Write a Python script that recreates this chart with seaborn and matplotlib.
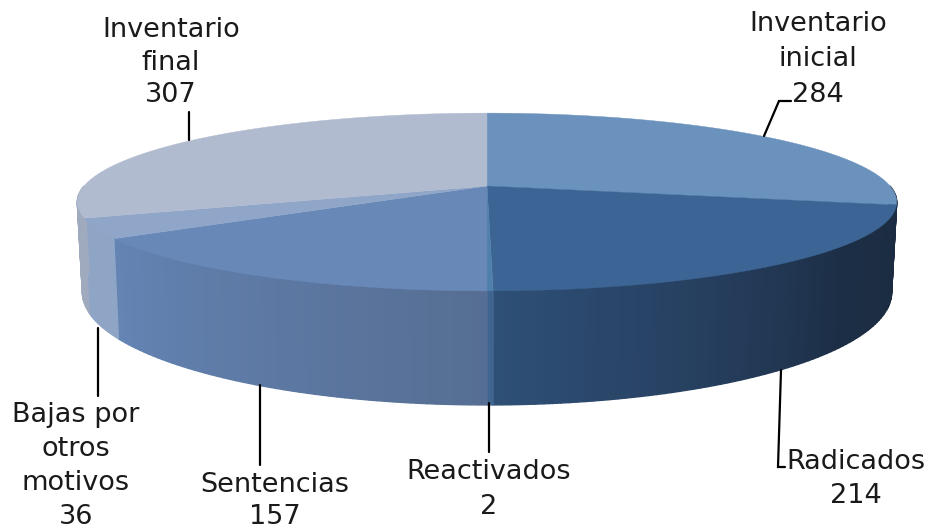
import numpy as np
import matplotlib
matplotlib.use('Agg')
import matplotlib.pyplot as plt
import seaborn as sns

labels = ['Inventario\ninicial', 'Radicados', 'Reactivados', 'Sentencias', 'Bajas por\notros\nmotivos', 'Inventario\nfinal']
values = [284, 214, 2, 157, 36, 307]

top_colors = ['#6b92bd', '#3c6595', '#4f7fad', '#6888b8', '#8fa6c8', '#b1bbd0']
wall_colors = [['#1b2c42', '#1b2c42'], ['#1b2c42', '#1c2e45', '#263f5f', '#2e4f76'], ['#3f6590', '#3f6590'],
               ['#566e93', '#6484b4'], ['#8fa5c6', '#8fa5c6'], ['#a0aabf', '#a0aabf']]

# label centre x, y, line spacing and leader line for each slice (pixels)
label_pos = [(818, 59.5), (856, 479), (489, 489.5), (275, 501), (76, 466), (171, 62.5)]
label_spacing = [1.49, 1.38, 1.47, 1.29, 1.39, 1.32]
leaders = [([791, 779, 764], [101, 101, 136]),
           ([781, 778, 785], [370, 467, 467]),
           ([489, 489], [403, 452]),
           ([259.5, 259.5], [385, 465]),
           ([98, 98], [328, 396]),
           ([189, 189], [112, 140])]

sns.set_theme(style='white')
plt.rcParams['font.family'] = ['DejaVu Sans']


def project(t, cy, a, b, k=0.18, cx=487):
    # angle clockwise from 12 o'clock to a point on the tilted disc
    v = -np.cos(t)
    u = np.sin(t)
    d = 1 - k * v
    return cx + a * u / d, cy + b * v / d


def top_rim(t):
    return project(t, 186, 403, 86)


def bottom_rim(t):
    return project(t, 272, 398, 109)


edges = np.radians(np.cumsum([0] + values) / sum(values) * 360)

fig = plt.figure(figsize=(9.36, 5.3), dpi=100)
ax = fig.add_axes([0, 0, 1, 1])
ax.set_xlim(0, 936)
ax.set_ylim(530, 0)
ax.axis('off')

# side wall, strips from right to left so each slice gets its own gradient
for i in range(len(values)):
    t0 = max(edges[i], np.pi / 2)
    t1 = min(edges[i + 1], 3 * np.pi / 2)
    if t1 <= t0:
        continue
    n = max(int(np.degrees(t1 - t0)), 1)
    shades = sns.blend_palette(wall_colors[i], n)
    ts = np.linspace(t0, t1, n + 1)
    for j in range(n):
        seg = np.linspace(ts[j], ts[j + 1], 6)
        xt, yt = top_rim(seg)
        xb, yb = bottom_rim(seg)
        ax.fill(np.r_[xt, xb[::-1]], np.r_[yt, yb[::-1]], color=shades[j], lw=1.0, zorder=2)

# top face
for i in range(len(values)):
    seg = np.linspace(edges[i], edges[i + 1], 200)
    xt, yt = top_rim(seg)
    ax.fill(np.r_[487, xt], np.r_[186, yt], color=top_colors[i], lw=0.3, zorder=3)

for lx, ly in leaders:
    ax.plot(lx, ly, color='black', lw=1.6, zorder=4, solid_joinstyle='miter')

for name, val, (x, y), sp in zip(labels, values, label_pos, label_spacing):
    ax.text(x, y, f'{name}\n{val}', ha='center', va='center', fontsize=19.5,
            color='#1a1a1a', linespacing=sp, zorder=5)

plt.savefig('out.png', dpi=100)
